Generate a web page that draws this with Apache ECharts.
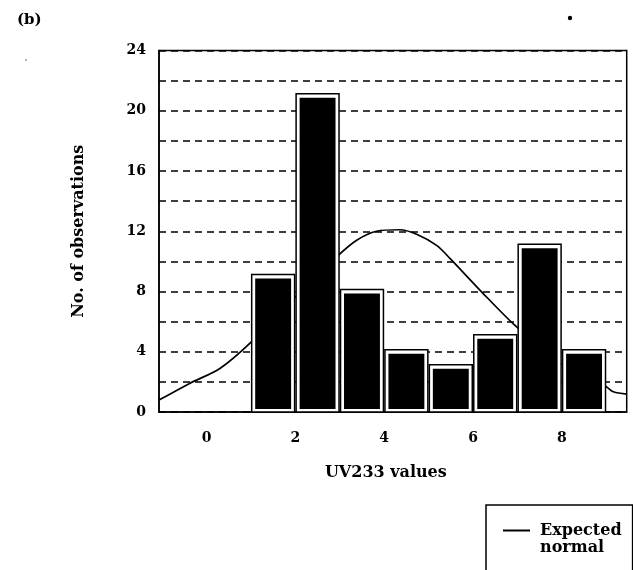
<!DOCTYPE html>
<html>
<head>
<meta charset="utf-8">
<script src="https://cdn.jsdelivr.net/npm/echarts@6/dist/echarts.min.js"></script>
<style>
html,body{margin:0;padding:0;background:#fff;}
#c{width:633px;height:570px;}
</style>
</head>
<body>
<div id="c"></div>
<script>
// Histogram bins (lower edge, upper edge) and counts
const binStart = [1, 2, 3, 4, 5, 6, 7, 8];
const binEnd   = [2, 3, 4, 5, 6, 7, 8, 9];
const counts   = [9, 21, 8, 4, 3, 5, 11, 4];
// Expected normal curve
const curveX = [-1.07, -0.38, 0.3, 1.01, 1.95, 2.93, 3.38, 3.83, 4.35, 4.73, 5.18, 5.48, 6.16, 6.94, 7.96, 9.0, 9.16, 9.46];
const curveY = [0.79, 1.9, 2.89, 4.66, 7.5, 10.3, 11.4, 12.0, 12.1, 11.8, 11.06, 10.2, 8.08, 5.76, 3.24, 1.68, 1.34, 1.19];
const xTicks = [0, 2, 4, 6, 8];
const yTicks = [0, 4, 8, 12, 16, 20, 24];

const FONT = 'DejaVu Serif';
const chart = echarts.init(document.getElementById('c'), null, {renderer: 'canvas'});

const barData = binStart.map((s, i) => [s, binEnd[i], counts[i]]);
const curveData = curveX.map((x, i) => [x, curveY[i]]);

chart.setOption({
  backgroundColor: '#fff',
  animation: false,
  grid: {left: 159, top: 50.5, right: 6.3, bottom: 158, show: true, borderColor: '#000', borderWidth: 1.5, backgroundColor: 'transparent'},
  xAxis: {
    type: 'value', min: -1.07, max: 9.46,
    name: 'UV233 values', nameLocation: 'middle', nameGap: 53,
    nameTextStyle: {fontFamily: FONT, fontWeight: 'bold', fontSize: 16, color: '#000', padding: [0, 14, 0, 0]},
    axisLine: {show: true, onZero: false, lineStyle: {color: '#000', width: 1.5}},
    axisTick: {show: false},
    splitLine: {show: false},
    axisLabel: {customValues: xTicks, margin: 19, fontFamily: FONT, fontWeight: 'bold', fontSize: 14, color: '#000'}
  },
  yAxis: {
    type: 'value', min: 0, max: 24, interval: 2,
    name: 'No. of observations', nameLocation: 'middle', nameGap: 72,
    nameTextStyle: {fontFamily: FONT, fontWeight: 'bold', fontSize: 16, color: '#000'},
    axisLine: {show: true, onZero: false, lineStyle: {color: '#000', width: 1.5}},
    axisTick: {show: false},
    splitLine: {show: true, lineStyle: {color: '#000', width: 1.5, type: [7, 5]}},
    axisLabel: {
      margin: 13, fontFamily: FONT, fontWeight: 'bold', fontSize: 14, color: '#000',
      padding: [10, 0, 0, 0],
      formatter: v => (yTicks.indexOf(v) >= 0 ? String(v) : '')
    }
  },
  legend: {
    show: true, left: 486, top: 505, orient: 'vertical',
    borderColor: '#000', borderWidth: 1.5, padding: [0, 11, 30, 17],
    itemWidth: 27, itemHeight: 2, itemGap: 0,
    icon: 'rect',
    data: [{name: 'Expected normal', icon: 'rect'}],
    formatter: () => ' \nExpected\nnormal',
    textStyle: {fontFamily: FONT, fontWeight: 'bold', fontSize: 16, color: '#000', lineHeight: 17, padding: [0, 0, 0, 5]}
  },
  series: [
    {
      name: 'Expected normal', type: 'line', data: curveData, smooth: 0.3,
      symbol: 'none', z: 2,
      itemStyle: {color: '#000'},
      lineStyle: {color: '#000', width: 1.7}
    },
    {
      name: 'Observations', type: 'custom', data: barData, z: 3,
      encode: {x: [0, 1], y: 2},
      renderItem: function (params, api) {
        const x0 = api.value(0), x1 = api.value(1), v = api.value(2);
        const p0 = api.coord([x0, 0]);
        const p1 = api.coord([x1, v]);
        const left = p0[0] + 0.75, right = p1[0] - 0.75;
        const base = p0[1], top = p1[1] - 2;
        return {
          type: 'group',
          children: [
            {type: 'rect', shape: {x: left, y: top, width: right - left, height: base - top},
             style: {fill: '#fff', stroke: '#000', lineWidth: 1.5}},
            {type: 'rect', shape: {x: left + 3.5, y: p1[1] + 2, width: right - left - 7, height: base - 3 - (p1[1] + 2)},
             style: {fill: '#000', stroke: null}}
          ]
        };
      }
    }
  ],
  graphic: [
    {type: 'text', left: 17, top: 13, style: {text: '(b)', fontFamily: FONT, fontWeight: 'bold', fontSize: 15, fill: '#000'}},
    {type: 'circle', shape: {cx: 570, cy: 18, r: 2.2}, style: {fill: '#000'}},
    {type: 'circle', shape: {cx: 26, cy: 60, r: 0.8}, style: {fill: '#555'}}
  ]
});
</script>
</body>
</html>
